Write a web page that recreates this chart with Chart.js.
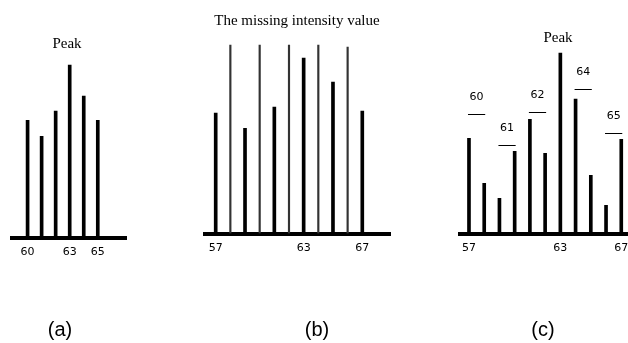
<!DOCTYPE html>
<html>
<head>
<meta charset="utf-8">
<script src="https://cdn.jsdelivr.net/npm/chart.js@4.4.1/dist/chart.umd.min.js"></script>
<style>
  html, body { margin: 0; padding: 0; background: #fff; }
  body { width: 628px; height: 343px; position: relative; overflow: hidden; }
  canvas { position: absolute; left: 0; top: 0; }
  .lbl { position: absolute; transform: translate(-50%, -50%); white-space: nowrap; color: #000; }
  .serif { font-family: "Liberation Serif", "DejaVu Serif", serif; font-size: 15px; }
  .cap { font-family: "Liberation Sans", Arial, sans-serif; font-size: 20px; }
</style>
</head>
<body>
<canvas id="chartA" width="628" height="343"></canvas>
<canvas id="chartB" width="628" height="343"></canvas>
<canvas id="chartC" width="660" height="343"></canvas>

<div class="lbl serif" style="left:67px; top:43px;">Peak</div>
<div class="lbl serif" style="left:297px; top:20px;">The missing intensity value</div>
<div class="lbl serif" style="left:558px; top:37px;">Peak</div>
<div class="lbl cap" style="left:60px; top:329px;">(a)</div>
<div class="lbl cap" style="left:317px; top:329px;">(b)</div>
<div class="lbl cap" style="left:543px; top:329px;">(c)</div>

<script>
// Dados (intensidades em unidades arbitrarias)
// (a) espectro observado
const massesA = [60, 61, 62, 63, 64, 65];
const intensA = [117, 101, 126, 172, 141, 117];
const ticksA = [60, 63, 65];

// (b) picos observados + valores de intensidade ausentes
const massesB = [57, 59, 61, 63, 65, 67];
const intensB = [120, 105, 126, 175, 151, 122];
const missingB = [58, 60, 62, 64, 66];
const missingIntensB = [188, 188, 188, 188, 186];
const ticksB = [57, 63, 67];

// (c) espectro completo com grupos marcados
const massesC = [57, 58, 59, 60, 61, 62, 63, 64, 65, 66, 67];
const intensC = [95, 50, 35, 82, 114, 80, 180, 134, 58, 28, 94];
const ticksC = [57, 63, 67];
const groupLabels = ['60', '61', '62', '64', '65'];
const groupFrom = [57, 59, 61, 64, 66];
const groupTo = [58, 60, 62, 65, 67];
const groupLevel = [119, 88, 121, 144, 100];

const Y_RANGE = 200;
const TICK_PAD = 8;
const AXIS_EXTRA = 8.5; // medido: o eixo ocupa um pouco mais que padding + fonte
const TICK_FONT = { family: '"DejaVu Sans", sans-serif', size: 11 };

// Plugin: linhas horizontais com rotulo por cima (painel c)
const overlinePlugin = {
  id: 'overlines',
  afterDatasetsDraw(chart, args, opts) {
    if (!opts.labels) return;
    const { ctx, scales: { x, y } } = chart;
    ctx.save();
    ctx.strokeStyle = '#000';
    ctx.fillStyle = '#000';
    ctx.lineWidth = 1;
    ctx.font = '11px "DejaVu Sans", sans-serif';
    ctx.textAlign = 'center';
    ctx.textBaseline = 'middle';
    opts.labels.forEach((txt, i) => {
      const x1 = x.getPixelForValue(opts.from[i]) - 1;
      const x2 = x.getPixelForValue(opts.to[i]) + 1;
      const yy = Math.round(y.getPixelForValue(opts.level[i])) + 0.5;
      ctx.beginPath();
      ctx.moveTo(x1, yy);
      ctx.lineTo(x2, yy);
      ctx.stroke();
      ctx.fillText(txt, (x1 + x2) / 2, yy - 17);
    });
    ctx.restore();
  }
};

// Monta um grafico de "bastoes" num canvas de pagina inteira
function stickChart(id, geo, datasets, tickVals, overlines) {
  const canvas = document.getElementById(id);
  const axisH = TICK_PAD + TICK_FONT.size * 1.2 + AXIS_EXTRA;
  return new Chart(canvas.getContext('2d'), {
    type: 'bar',
    data: { datasets },
    plugins: [overlinePlugin],
    options: {
      responsive: false,
      animation: false,
      events: [],
      layout: {
        padding: {
          left: geo.left,
          right: canvas.width - geo.right,
          top: geo.base - Y_RANGE,
          bottom: canvas.height - geo.base - axisH
        }
      },
      plugins: {
        legend: { display: false },
        tooltip: { enabled: false },
        overlines: overlines || {}
      },
      scales: {
        x: {
          type: 'linear',
          offset: false,
          min: geo.min,
          max: geo.max,
          grid: { display: false, drawTicks: false },
          border: { display: true, width: 4, color: '#000' },
          afterBuildTicks: s => { s.ticks = tickVals.map(v => ({ value: v })); },
          ticks: { padding: TICK_PAD, font: TICK_FONT, color: '#000', maxRotation: 0, autoSkip: false }
        },
        y: { display: false, min: 0, max: Y_RANGE }
      }
    }
  });
}

function bars(masses, values, width, color) {
  return {
    data: masses.map((m, i) => ({ x: m, y: values[i] })),
    backgroundColor: color,
    barThickness: width,
    grouped: false
  };
}

stickChart('chartA',
  { left: 12, right: 126, base: 237, min: 58.89, max: 67.01 },
  [bars(massesA, intensA, 3, '#000')], ticksA);

stickChart('chartB',
  { left: 205, right: 390, base: 233, min: 56.27, max: 68.89 },
  [bars(massesB, intensB, 3, '#000'), bars(missingB, missingIntensB, 1.5, '#333')], ticksB);

stickChart('chartC',
  { left: 460, right: 640, base: 233, min: 56.41, max: 68.23 },
  [bars(massesC, intensC, 3, '#000')], ticksC,
  { labels: groupLabels, from: groupFrom, to: groupTo, level: groupLevel });
</script>
</body>
</html>
